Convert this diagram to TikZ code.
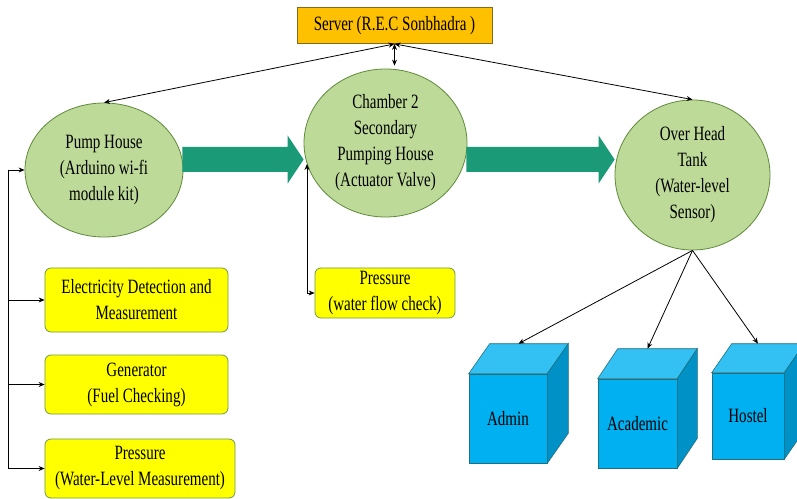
\documentclass[tikz,border=0pt]{standalone}
\usepackage{fontspec}
\setmainfont[FakeStretch=0.74]{Liberation Serif}
\usetikzlibrary{shapes.geometric,arrows.meta,calc}
\definecolor{ellfill}{HTML}{BDDA98}
\definecolor{elldraw}{HTML}{5E8A3A}
\definecolor{ybox}{HTML}{FFFF00}
\definecolor{yboxdraw}{HTML}{6E9A4B}
\definecolor{srvfill}{HTML}{FFC000}
\definecolor{srvdraw}{HTML}{7F6A1F}
\definecolor{bigarrow}{HTML}{1B9A77}
\definecolor{cubefront}{HTML}{00B0F0}
\definecolor{cubetop}{HTML}{33C1F4}
\definecolor{cubeside}{HTML}{0092C7}
\definecolor{cubeedge}{HTML}{1F6F7F}
\tikzset{
  txt/.style={font=\fontsize{20.3bp}{26bp}\selectfont, align=center, text=black},
  ell/.style={txt, ellipse, draw=elldraw, line width=0.8bp, fill=ellfill, inner sep=0pt},
  ybx/.style={txt, rectangle, rounded corners=6bp, draw=yboxdraw, line width=0.8bp, fill=ybox, inner sep=0pt},
  srv/.style={txt, rectangle, draw=srvdraw, line width=0.8bp, fill=srvfill, inner sep=0pt},
  cfront/.style={txt, rectangle, draw=cubeedge, line width=0.6bp, fill=cubefront, inner sep=0pt},
  ctop/.style={fill=cubetop, draw=cubeedge, line width=0.6bp},
  cside/.style={fill=cubeside, draw=cubeedge, line width=0.6bp},
  conn/.style={draw=black, line width=0.8bp, -{Stealth[length=6bp,width=5bp]}},
  conn2/.style={draw=black, line width=0.8bp, {Stealth[length=6bp,width=5bp]}-{Stealth[length=6bp,width=5bp]}},
  blk/.style={fill=bigarrow}
}
\newcommand\blockarr[2]{\fill[blk] ($(#1)+(0,-12.5)$) -- ($(#2)+(-16,-12.5)$) -- ($(#2)+(-16,-24)$) -- (#2) -- ($(#2)+(-16,24)$) -- ($(#2)+(-16,12.5)$) -- ($(#1)+(0,12.5)$) -- cycle;}
\newcommand\cubefaces[3]{% node, dx, dy (pixels, dy upward)
  \path[ctop] (#1.north west) -- ++(#2,-#3) -- ($(#1.north east)+(#2,-#3)$) -- (#1.north east) -- cycle;
  \path[cside] (#1.north east) -- ++(#2,-#3) -- ($(#1.south east)+(#2,-#3)$) -- (#1.south east) -- cycle;
}
\begin{document}
\begin{tikzpicture}[x=1bp, y=-1bp]
\useasboundingbox (0,0) rectangle (797,499);

% server
\node[srv, minimum width=195bp, minimum height=36bp] (server) at (394.5,25.5) {Server (R.E.C Sonbhadra )};

% ellipses
\node[ell, minimum width=158bp, minimum height=134bp] (pump) at (104,170) {Pump House\\(Arduino wi-fi\\module kit)};
\node[ell, minimum width=163bp, minimum height=148bp] (chamber) at (385.5,143) {Chamber 2\\Secondary\\Pumping House\\(Actuator Valve)};
\node[ell, minimum width=155bp, minimum height=150bp] (tank) at (692.5,175) {Over Head\\Tank\\(Water-level\\Sensor)};

% yellow boxes
\node[ybx, minimum width=183bp, minimum height=64bp] (elec) at (136.5,300) {Electricity Detection and\\Measurement};
\node[ybx, minimum width=183bp, minimum height=59bp] (gen) at (136.5,384.5) {Generator\\(Fuel Checking)};
\node[ybx, minimum width=190bp, minimum height=59bp] (pres1) at (140,468.5) {Pressure\\(Water-Level Measurement)};
\node[ybx, minimum width=140bp, minimum height=50bp] (pres2) at (385,293) {Pressure\\(water flow check)};

% block arrows
\coordinate (b1s) at ($(pump.east)+(-1,-10.5)$);
\coordinate (b1e) at ($(chamber.west)+(0,16.5)$);
\coordinate (b2s) at ($(chamber.east)+(-1,16.5)$);
\coordinate (b2e) at ($(tank.west)+(0,-15.5)$);
\blockarr{b1s}{b1e}
\blockarr{b2s}{b2e}

% server links
\draw[conn2] (server.south) -- (pump.north);
\draw[conn2] (server.south) -- (tank.north);
\coordinate (chtop) at ($(server.south |- chamber.north)+(0,-3)$);
\draw[conn2] (server.south) -- (chtop);

% left bus
\coordinate (bus) at (8,170);
\draw[conn] (bus) -- (pump.west);
\draw[conn] (bus) |- (elec.west);
\draw[conn] (bus) |- (gen.west);
\draw[conn] (bus) |- (pres1.west);

% chamber to pressure
\draw[conn2] (pres2.west) -| (chamber.195);

% cubes
\node[cfront, minimum width=78bp, minimum height=89bp] (admin) at (508,418.5) {Admin};
\node[cfront, minimum width=79bp, minimum height=89bp] (acad) at (637.5,423.5) {Academic};
\node[cfront, minimum width=72bp, minimum height=86bp] (hostel) at (748,416) {Hostel};
\cubefaces{admin}{21}{30}
\cubefaces{acad}{20}{30}
\cubefaces{hostel}{20}{29}
\coordinate (admintop) at ($(admin.north)+(10.5,-30)$);
\coordinate (acadtop) at ($(acad.north)+(10,-30)$);
\coordinate (hosteltop) at ($(hostel.north)+(10,-29)$);
\draw[conn] (tank.south) -- (admintop);
\draw[conn] (tank.south) -- (acadtop);
\draw[conn] (tank.south) -- (hosteltop);
\end{tikzpicture}
\end{document}
